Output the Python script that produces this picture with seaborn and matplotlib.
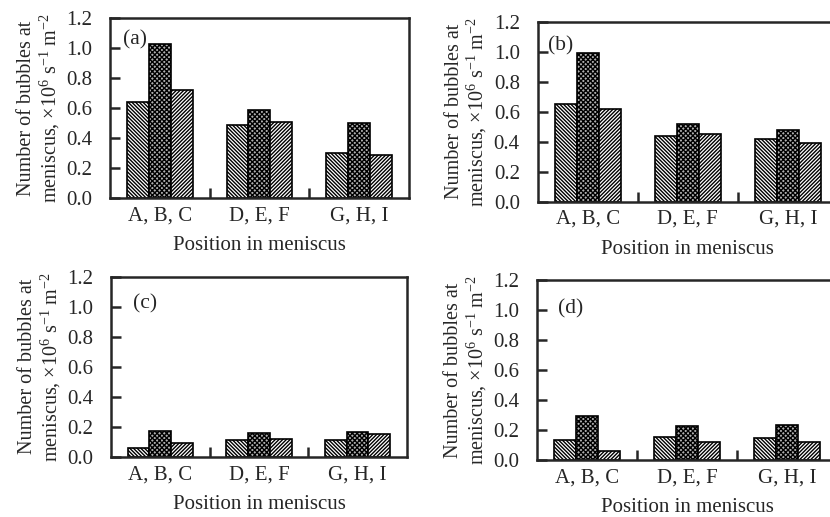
import numpy as np
import pandas as pd
import matplotlib
matplotlib.use('Agg')
import matplotlib.pyplot as plt
import seaborn as sns

# --- data ---
groups = ['A, B, C', 'D, E, F', 'G, H, I']
members = ['first', 'middle', 'last']
panel_labels = ['(a)', '(b)', '(c)', '(d)']

vals_a = [[0.64, 1.03, 0.72], [0.49, 0.59, 0.51], [0.30, 0.50, 0.29]]
vals_b = [[0.65, 0.99, 0.62], [0.44, 0.52, 0.45], [0.42, 0.48, 0.39]]
vals_c = [[0.055, 0.17, 0.09], [0.11, 0.16, 0.12], [0.11, 0.165, 0.15]]
vals_d = [[0.13, 0.29, 0.06], [0.155, 0.225, 0.12], [0.145, 0.23, 0.12]]

y_ticks = [0.0, 0.2, 0.4, 0.6, 0.8, 1.0, 1.2]

sns.set_style('ticks')
plt.rcParams['font.family'] = ['Liberation Serif', 'DejaVu Serif']
plt.rcParams['mathtext.fontset'] = 'custom'
plt.rcParams['mathtext.rm'] = 'Liberation Serif'
plt.rcParams['hatch.linewidth'] = 1.0
plt.rcParams['hatch.color'] = 'black'

fig = plt.figure(figsize=(8.30, 5.17), dpi=100)

# axes boxes in figure fraction (left, bottom, width, height)
boxes = [
    (0.1325, 0.617, 0.3602, 0.348),
    (0.648, 0.610, 0.3614, 0.348),
    (0.1337, 0.1166, 0.3566, 0.348),
    (0.647, 0.1103, 0.3614, 0.348),
]
label_pos = [(0.043, 0.935), (0.033, 0.92), (0.074, 0.905), (0.07, 0.895)]

hatches = ['\\' * 9, 'xxxxxxx', '/' * 9]
faces = ['white', '#b0b0b0', 'white']

ylab = 'Number of bubbles at\nmeniscus, $\\times$10$^{6}$ s$^{-1}$ m$^{-2}$'

for vals, box, plabel, lpos in zip([vals_a, vals_b, vals_c, vals_d], boxes,
                                   panel_labels, label_pos):
    rows = []
    for g, trio in zip(groups, vals):
        for m, v in zip(members, trio):
            rows.append({'group': g, 'member': m, 'value': v})
    df = pd.DataFrame(rows)

    ax = fig.add_axes(box)
    sns.barplot(data=df, x='group', y='value', hue='member', order=groups,
                hue_order=members, width=0.66, gap=0, legend=False,
                edgecolor='black', linewidth=1.2, errorbar=None, ax=ax)
    for cont, h, fc in zip(ax.containers, hatches, faces):
        for p in cont:
            p.set_hatch(h)
            p.set_facecolor(fc)

    ax.set_xlim(-0.5, 2.5)
    ax.set_ylim(0, 1.2)
    ax.set_yticks(y_ticks)
    ax.set_yticklabels(['%.1f' % t for t in y_ticks])
    ax.set_xticks([0.5, 1.5], minor=True)
    ax.tick_params(axis='x', which='major', length=0, labelsize=15, pad=6)
    ax.tick_params(axis='x', which='minor', direction='in', length=7, width=1.8)
    ax.tick_params(axis='y', direction='in', length=7, width=1.8, labelsize=15, pad=13)
    for s in ax.spines.values():
        s.set_linewidth(1.8)
        s.set_visible(True)
    ax.set_xlabel('Position in meniscus', fontsize=15, labelpad=8)
    ax.set_ylabel(ylab, fontsize=14.5, labelpad=3, linespacing=1.05)
    ax.text(lpos[0], lpos[1], plabel, transform=ax.transAxes, fontsize=15.5,
            ha='left', va='top')

fig.savefig('out.png', dpi=100)
